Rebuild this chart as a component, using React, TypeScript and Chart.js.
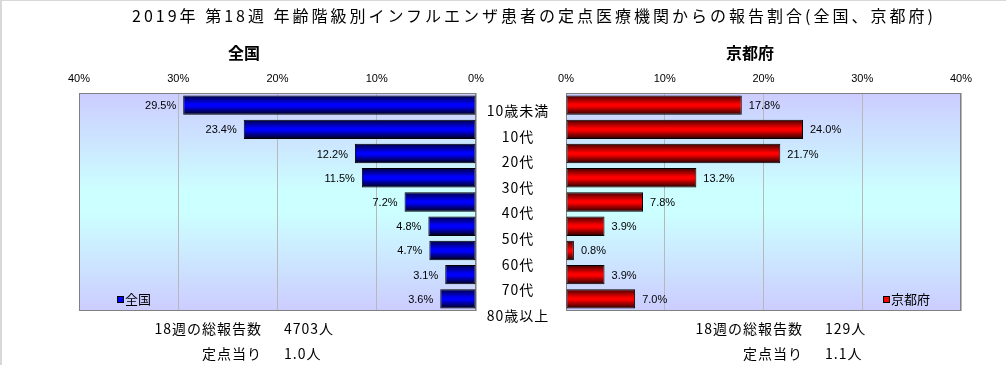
import React, { useEffect, useRef } from 'react';
import { Chart, registerables } from 'chart.js';

Chart.register(...registerables);

// ---------- data ----------
const categories = ['10歳未満', '10代', '20代', '30代', '40代', '50代', '60代', '70代', '80歳以上'];
const nationalValues = [29.5, 23.4, 12.2, 11.5, 7.2, 4.8, 4.7, 3.1, 3.6];
const kyotoValues = [17.8, 24.0, 21.7, 13.2, 7.8, 3.9, 0.8, 3.9, 7.0];
const axisMin = 0;
const axisMax = 40;
const axisStep = 10;

const titleText = '2019年 第18週 年齢階級別インフルエンザ患者の定点医療機関からの報告割合(全国、京都府)';
const nationalName = '全国';
const kyotoName = '京都府';
const totalLabel = '18週の総報告数';
const perSiteLabel = '定点当り';
const nationalTotal = '4703人';
const nationalPerSite = '1.0人';
const kyotoTotal = '129人';
const kyotoPerSite = '1.1人';

const CJK = '"Noto Sans CJK JP", "Noto Sans", sans-serif';
const LATIN = '"Liberation Sans", Arial, sans-serif';

// ---------- plugins ----------
const plotBackground = {
  id: 'plotBackground',
  beforeDraw(chart: any) {
    const { ctx, chartArea: a } = chart;
    if (!a) return;
    const g = ctx.createLinearGradient(0, a.top, 0, a.bottom);
    g.addColorStop(0, '#ccccff');
    g.addColorStop(0.45, '#ccffff');
    g.addColorStop(0.55, '#ccffff');
    g.addColorStop(1, '#ccccff');
    ctx.save();
    ctx.fillStyle = g;
    ctx.fillRect(a.left, a.top, a.right - a.left, a.bottom - a.top);
    ctx.restore();
  },
  beforeDatasetsDraw(chart: any) {
    const { ctx, chartArea: a } = chart;
    ctx.save();
    ctx.strokeStyle = '#808080';
    ctx.lineWidth = 1;
    ctx.strokeRect(Math.round(a.left) + 0.5, Math.round(a.top) + 0.5, Math.round(a.right - a.left) - 1, Math.round(a.bottom - a.top) - 1);
    ctx.restore();
  },
};

const valueLabels = {
  id: 'valueLabels',
  afterDatasetsDraw(chart: any, _args: any, opts: any) {
    const meta = chart.getDatasetMeta(0);
    const data = chart.data.datasets[0].data as number[];
    const ctx = chart.ctx;
    ctx.save();
    ctx.font = '11px ' + LATIN;
    ctx.fillStyle = '#000';
    ctx.textBaseline = 'middle';
    meta.data.forEach((bar: any, i: number) => {
      const text = data[i].toFixed(1) + '%';
      if (opts.side === 'left') {
        ctx.textAlign = 'right';
        ctx.fillText(text, bar.x - 7, bar.y + 1);
      } else {
        ctx.textAlign = 'left';
        ctx.fillText(text, bar.x + 7, bar.y + 1);
      }
    });
    ctx.restore();
  },
};

function makeConfig(values: number[], side: 'left' | 'right', colors: string[], padding: any): any {
  return {
    type: 'bar',
    data: {
      labels: categories,
      datasets: [
        {
          data: values,
          borderColor: '#000000',
          borderWidth: 1,
          borderSkipped: false,
          categoryPercentage: 0.8,
          barPercentage: 1,
          backgroundColor: (c: any) => {
            const chart = c.chart;
            const ys = chart.scales && chart.scales.y;
            if (!ys || c.dataIndex === undefined) return colors[1];
            const center = ys.getPixelForValue(c.dataIndex);
            const half = ((ys.height || 0) / categories.length) * 0.8 / 2;
            if (!isFinite(center) || !isFinite(half) || half <= 0) return colors[1];
            const g = chart.ctx.createLinearGradient(0, center - half, 0, center + half);
            g.addColorStop(0, colors[0]);
            g.addColorStop(0.45, colors[1]);
            g.addColorStop(0.55, colors[1]);
            g.addColorStop(1, colors[2]);
            return g;
          },
        },
      ],
    },
    options: {
      indexAxis: 'y',
      animation: false,
      responsive: false,
      maintainAspectRatio: false,
      devicePixelRatio: 1,
      layout: { padding },
      plugins: {
        legend: { display: false },
        tooltip: { enabled: false },
        title: { display: false },
        valueLabels: { side },
      },
      scales: {
        x: {
          type: 'linear',
          position: 'top',
          reverse: side === 'left',
          min: axisMin,
          max: axisMax,
          afterFit: (s: any) => {
            s.height = 20;
          },
          ticks: {
            stepSize: axisStep,
            padding: 7,
            color: '#000',
            font: { family: '"Liberation Sans", Arial, sans-serif', size: 11 },
            callback: (v: any) => v + '%',
          },
          grid: { color: '#b8b8b8', drawTicks: false, lineWidth: 1 },
          border: { display: false },
        },
        y: {
          type: 'category',
          display: false,
        },
      },
    },
    plugins: [plotBackground, valueLabels],
  };
}

function useChart(ref: React.RefObject<HTMLCanvasElement>, build: () => any) {
  useEffect(() => {
    if (!ref.current) return;
    const chart = new Chart(ref.current, build());
    chart.update();
    return () => chart.destroy();
  }, []);
}

const abs = (s: React.CSSProperties): React.CSSProperties => ({ position: 'absolute', whiteSpace: 'nowrap', ...s });

export default function App() {
  const leftRef = useRef<HTMLCanvasElement>(null);
  const rightRef = useRef<HTMLCanvasElement>(null);

  useChart(leftRef, () =>
    makeConfig(nationalValues, 'left', ['#000040', '#0000ff', '#000010'], { left: 79, right: 24, top: 73, bottom: 54 })
  );
  useChart(rightRef, () =>
    makeConfig(kyotoValues, 'right', ['#400000', '#ff0000', '#200000'], { left: 66, right: 45, top: 73, bottom: 54 })
  );

  useEffect(() => {
    document.body.style.margin = '0';
  }, []);

  const textBase: React.CSSProperties = { fontFamily: CJK, color: '#000' };

  return (
    <div style={{ position: 'absolute', left: 0, top: 0, width: 1006, height: 365, background: '#fff', overflow: 'hidden' }}>
      <div style={abs({ left: 0, top: 0, width: 1006, height: 1, background: '#d8d8d8' })} />
      <div style={abs({ left: 0, top: 0, width: 2, height: 365, background: '#d8d8d8' })} />

      <canvas ref={leftRef} width={500} height={365} style={{ position: 'absolute', left: 0, top: 0, width: 500, height: 365 }} />
      <canvas ref={rightRef} width={506} height={365} style={{ position: 'absolute', left: 500, top: 0, width: 506, height: 365 }} />

      {/* title */}
      <div style={abs({ ...textBase, left: 0, width: 1068, top: 5, height: 20, lineHeight: '20px', fontSize: 16, letterSpacing: 3, textAlign: 'center' })}>
        {titleText}
      </div>

      {/* panel titles */}
      <div style={abs({ ...textBase, left: 144, width: 200, top: 42, height: 20, lineHeight: '20px', fontSize: 16, fontWeight: 'bold', textAlign: 'center' })}>
        {nationalName}
      </div>
      <div style={abs({ ...textBase, left: 650, width: 200, top: 42, height: 20, lineHeight: '20px', fontSize: 16, fontWeight: 'bold', textAlign: 'center' })}>
        {kyotoName}
      </div>

      {/* category labels */}
      <div style={abs({ left: 468, width: 100, top: 98 })}>
        {categories.map((c) => (
          <div key={c} style={{ ...textBase, height: 25.6, lineHeight: '25.6px', fontSize: 14, letterSpacing: 1, textAlign: 'center' }}>
            {c}
          </div>
        ))}
      </div>

      {/* legends */}
      <div style={abs({ ...textBase, left: 117, top: 291, height: 16, lineHeight: '16px', fontSize: 13, display: 'flex', alignItems: 'center' })}>
        <span style={{ display: 'inline-block', width: 5, height: 5, background: '#0000ff', border: '1px solid #000', marginRight: 1 }} />
        {nationalName}
      </div>
      <div style={abs({ ...textBase, left: 883, top: 291, height: 16, lineHeight: '16px', fontSize: 13, display: 'flex', alignItems: 'center' })}>
        <span style={{ display: 'inline-block', width: 5, height: 5, background: '#ff0000', border: '1px solid #000', marginRight: 1 }} />
        {kyotoName}
      </div>

      {/* bottom notes */}
      <div style={abs({ ...textBase, left: 62, width: 200, top: 318, height: 20, lineHeight: '20px', fontSize: 14, letterSpacing: 1, textAlign: 'right' })}>{totalLabel}</div>
      <div style={abs({ ...textBase, left: 284, top: 318, height: 20, lineHeight: '20px', fontSize: 14, letterSpacing: 1 })}>{nationalTotal}</div>
      <div style={abs({ ...textBase, left: 62, width: 200, top: 343, height: 20, lineHeight: '20px', fontSize: 14, letterSpacing: 1, textAlign: 'right' })}>{perSiteLabel}</div>
      <div style={abs({ ...textBase, left: 284, top: 343, height: 20, lineHeight: '20px', fontSize: 14, letterSpacing: 1 })}>{nationalPerSite}</div>

      <div style={abs({ ...textBase, left: 603, width: 200, top: 318, height: 20, lineHeight: '20px', fontSize: 14, letterSpacing: 1, textAlign: 'right' })}>{totalLabel}</div>
      <div style={abs({ ...textBase, left: 825, top: 318, height: 20, lineHeight: '20px', fontSize: 14, letterSpacing: 1 })}>{kyotoTotal}</div>
      <div style={abs({ ...textBase, left: 603, width: 200, top: 343, height: 20, lineHeight: '20px', fontSize: 14, letterSpacing: 1, textAlign: 'right' })}>{perSiteLabel}</div>
      <div style={abs({ ...textBase, left: 825, top: 343, height: 20, lineHeight: '20px', fontSize: 14, letterSpacing: 1 })}>{kyotoPerSite}</div>
    </div>
  );
}
